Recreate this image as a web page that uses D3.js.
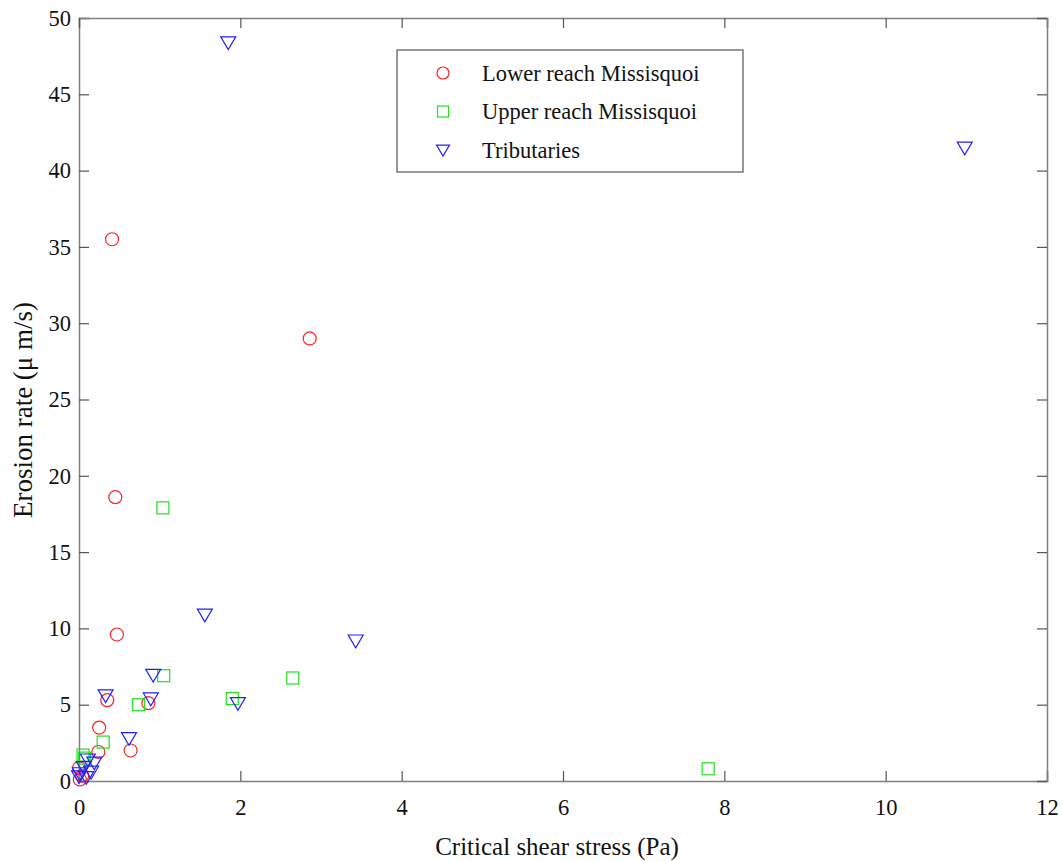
<!DOCTYPE html>
<html>
<head>
<meta charset="utf-8">
<script src="https://cdn.jsdelivr.net/npm/d3@7"></script>
<style>
  body { margin: 0; background: #fff; }
  svg text { font-family: "Liberation Serif", "Times New Roman", serif; fill: #111; }
</style>
</head>
<body>
<svg id="chart" width="1063" height="861"></svg>
<script>
// critical shear stress (Pa) / erosion rate (um/s)
var lowerX = [0.41, 0.45, 2.86, 0.47, 0.35, 0.86, 0.25, 0.24, 0.64, 0.00, 0.04, 0.01];
var lowerY = [35.5, 18.6, 29.0, 9.6, 5.3, 5.1, 3.5, 1.9, 2.0, 0.85, 0.35, 0.1];

var upperX = [1.04, 1.05, 0.74, 1.90, 2.65, 7.80, 0.30, 0.07, 0.05];
var upperY = [17.9, 6.9, 5.0, 5.4, 6.75, 0.8, 2.55, 1.5, 1.7];

var tribX = [1.85, 10.98, 1.56, 3.43, 0.92, 0.89, 0.33, 1.97, 0.62, 0.11, 0.19, 0.06, 0.01, 0.09, 0.15, 0.00];
var tribY = [48.4, 41.5, 10.9, 9.2, 6.95, 5.4, 5.6, 5.1, 2.8, 1.4, 1.2, 0.9, 0.5, 0.25, 0.6, 0.3];

var xTicks = [0, 2, 4, 6, 8, 10, 12];
var yTicks = [0, 5, 10, 15, 20, 25, 30, 35, 40, 45, 50];

var seriesNames = ["Lower reach Missisquoi", "Upper reach Missisquoi", "Tributaries"];
var seriesColors = ["#ff2020", "#20e020", "#2020ff"];

function zip(xs, ys) {
    return xs.map(function(v, i) { return {x: v, y: ys[i]}; });
}

var svg = d3.select("#chart");
var padding = {top: 18, bottom: 80, left: 79, right: 16};
var width = 1063 - padding.left - padding.right;
var height = 861 - padding.top - padding.bottom;

var canvas = svg.append("g")
    .attr("transform", "translate(" + padding.left + "," + padding.top + ")");

var x = d3.scaleLinear().domain([0, 12]).range([0, width]);
var y = d3.scaleLinear().domain([0, 50]).range([height, 0]);

var axisColor = "#808080";

// ticks pointing inward, on all four sides like a matlab box
var xAxis = d3.axisBottom(x).tickValues(xTicks).tickSize(-10).tickPadding(18);
var yAxis = d3.axisLeft(y).tickValues(yTicks).tickSize(-10).tickPadding(18);

var gX = canvas.append("g").attr("transform", "translate(0," + height + ")").call(xAxis);
var gY = canvas.append("g").call(yAxis);
var gXt = canvas.append("g").call(d3.axisTop(x).tickValues(xTicks).tickSize(-10).tickFormat(""));
var gYr = canvas.append("g").attr("transform", "translate(" + width + ",0)")
    .call(d3.axisRight(y).tickValues(yTicks).tickSize(-10).tickFormat(""));

[gX, gY, gXt, gYr].forEach(function(g) {
    g.selectAll("path.domain").attr("stroke", axisColor).attr("stroke-width", 1.5);
    g.selectAll(".tick line").attr("stroke", "#555").attr("stroke-width", 1.2);
    g.selectAll(".tick text").style("font-size", "22.5px").attr("fill", "#111");
});
gX.selectAll(".tick text").attr("dy", "0.71em").attr("y", 18);
gY.selectAll(".tick text").attr("x", -8);

// axis titles
svg.append("text")
    .attr("x", 557)
    .attr("y", 855)
    .attr("text-anchor", "middle")
    .style("font-size", "25px")
    .text("Critical shear stress (Pa)");

svg.append("text")
    .attr("transform", "translate(32,410) rotate(-90)")
    .attr("text-anchor", "middle")
    .style("font-size", "27px")
    .text("Erosion rate (\u03bc m/s)");

// markers
var triPath = function(s) {
    return "M" + (-s) + "," + (-s * 0.75) + "L" + s + "," + (-s * 0.75) + "L0," + (s * 0.95) + "Z";
};

canvas.selectAll("circle.lower")
    .data(zip(lowerX, lowerY))
    .enter()
    .append("circle")
    .attr("class", "lower")
    .attr("cx", function(d) { return x(d.x); })
    .attr("cy", function(d) { return y(d.y); })
    .attr("r", 6.5)
    .attr("fill", "none")
    .attr("stroke", seriesColors[0])
    .attr("stroke-width", 1.2);

canvas.selectAll("rect.upper")
    .data(zip(upperX, upperY))
    .enter()
    .append("rect")
    .attr("class", "upper")
    .attr("x", function(d) { return x(d.x) - 6; })
    .attr("y", function(d) { return y(d.y) - 6; })
    .attr("width", 12)
    .attr("height", 12)
    .attr("fill", "none")
    .attr("stroke", seriesColors[1])
    .attr("stroke-width", 1.2);

canvas.selectAll("path.trib")
    .data(zip(tribX, tribY))
    .enter()
    .append("path")
    .attr("class", "trib")
    .attr("transform", function(d) { return "translate(" + x(d.x) + "," + y(d.y) + ")"; })
    .attr("d", triPath(7.5))
    .attr("fill", "none")
    .attr("stroke", seriesColors[2])
    .attr("stroke-width", 1.2);

// legend
var legend = svg.append("g").attr("transform", "translate(397,50)");
legend.append("rect")
    .attr("width", 346)
    .attr("height", 122)
    .attr("fill", "#fff")
    .attr("stroke", "#555")
    .attr("stroke-width", 1.2);

seriesNames.forEach(function(name, i) {
    var row = legend.append("g").attr("transform", "translate(46," + (23 + i * 38.5) + ")");
    if (i == 0) {
        row.append("circle").attr("r", 6).attr("fill", "none")
            .attr("stroke", seriesColors[0]).attr("stroke-width", 1.2);
    }
    else if (i == 1) {
        row.append("rect").attr("x", -5.5).attr("y", -5.5).attr("width", 11).attr("height", 11)
            .attr("fill", "none").attr("stroke", seriesColors[1]).attr("stroke-width", 1.2);
    }
    else {
        row.append("path").attr("d", triPath(6.5)).attr("fill", "none")
            .attr("stroke", seriesColors[2]).attr("stroke-width", 1.2);
    }
    row.append("text")
        .attr("x", 39)
        .attr("dy", "0.35em")
        .style("font-size", "22.5px")
        .text(name);
});
</script>
</body>
</html>
